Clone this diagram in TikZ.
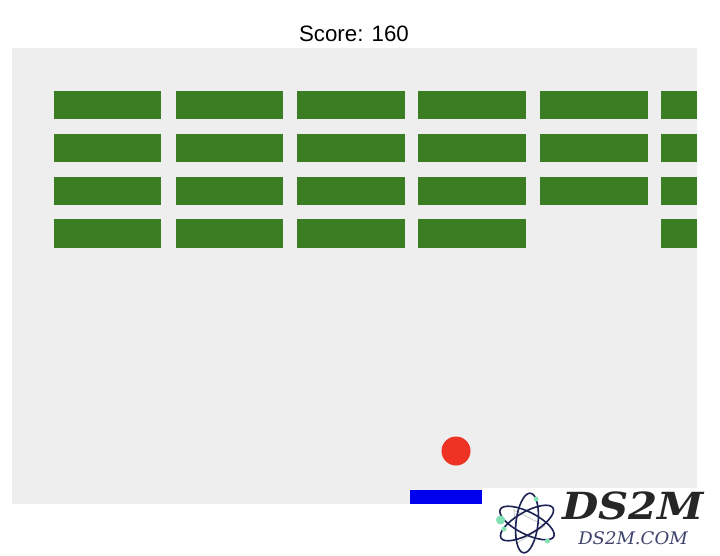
\documentclass[tikz,border=0pt]{standalone}
\usepackage{fontspec}
\setmainfont{Liberation Sans}
\newfontfamily\logofont{DejaVu Serif}
\definecolor{panelgray}{RGB}{238,238,238}
\definecolor{brickgreen}{RGB}{58,125,34}
\definecolor{ballred}{RGB}{238,50,36}
\definecolor{paddleblue}{RGB}{0,0,238}
\definecolor{orbitnavy}{RGB}{28,34,84}
\definecolor{atomgreen}{RGB}{130,226,180}
\tikzset{every picture/.style={line width=0.75pt}}
\tikzset{
  brick/.style={fill=brickgreen,draw=none},
  orbit/.style={draw=orbitnavy,line width=1.2pt},
  atom/.style={fill=atomgreen,draw=none}
}

\begin{document}
\begin{tikzpicture}[x=0.75pt,y=0.75pt,yscale=-1,xscale=1]
\useasboundingbox (0,0) rectangle (720,556);

%Shape: Rectangle [panel]
\fill [panelgray] (11.5,48) rectangle (697,504);

%Row 1
\path [brick] (54,91) rectangle (161,119);
\path [brick] (175.5,91) rectangle (283,119);
\path [brick] (297,91) rectangle (404.5,119);
\path [brick] (418,91) rectangle (525.5,119);
\path [brick] (540,91) rectangle (647.5,119);
\path [brick] (661,91) rectangle (697,119);
%Row 2
\path [brick] (54,134) rectangle (161,162);
\path [brick] (175.5,134) rectangle (283,162);
\path [brick] (297,134) rectangle (404.5,162);
\path [brick] (418,134) rectangle (525.5,162);
\path [brick] (540,134) rectangle (647.5,162);
\path [brick] (661,134) rectangle (697,162);
%Row 3
\path [brick] (54,177) rectangle (161,205);
\path [brick] (175.5,177) rectangle (283,205);
\path [brick] (297,177) rectangle (404.5,205);
\path [brick] (418,177) rectangle (525.5,205);
\path [brick] (540,177) rectangle (647.5,205);
\path [brick] (661,177) rectangle (697,205);
%Row 4
\path [brick] (54,219) rectangle (161,247.5);
\path [brick] (175.5,219) rectangle (283,247.5);
\path [brick] (297,219) rectangle (404.5,247.5);
\path [brick] (418,219) rectangle (525.5,247.5);
\path [brick] (661,219) rectangle (697,247.5);

%Shape: Circle [ball]
\fill [ballred] (456,451) circle (14.5);
%Shape: Rectangle [paddle]
\fill [paddleblue] (410,490) rectangle (482,504);

%Shape: Rectangle [logo ground]
\fill [white] (482,488) rectangle (720,556);
%Logo orbits
\draw [gray!40,line width=0.7pt] (514,510) -- (545,526) -- (517,543) -- cycle;
\draw [orbit,rotate around={6.5:(527,523)}] (527,523) ellipse (11 and 30);
\draw [orbit,rotate around={-63:(527,523)}] (527,523) ellipse (11 and 30);
\draw [orbit,rotate around={60:(527,523)}] (527,523) ellipse (11 and 30);
%Logo atoms
\fill [atom] (500.5,520) circle (4.5);
\fill [atom] (504,529) circle (2.5);
\fill [atom] (536,499) circle (2.5);
\fill [atom] (547.5,541) circle (2.5);

% Text Node
\node (score) at (354,34) {\fontsize{16.7}{20}\selectfont Score: 160};
% Text Node
\node (logotitle) [color=black!85] at (633,506) {\scalebox{1.12}[1]{\logofont\fontsize{28}{32}\selectfont\bfseries\itshape DS2M}};
% Text Node
\node (logourl) [color=orbitnavy!85] at (633,538) {\scalebox{1.04}[1]{\logofont\fontsize{13}{16}\selectfont\itshape DS2M.COM}};

\end{tikzpicture}
\end{document}
